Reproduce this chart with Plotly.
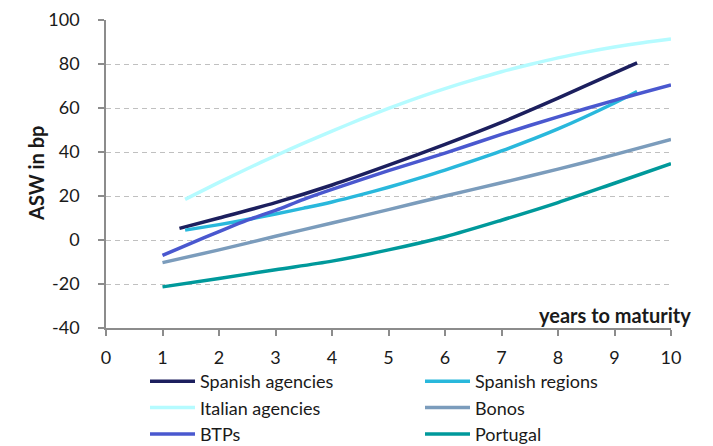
import plotly.graph_objects as go

# Data (x = years to maturity, y = ASW in bp)
sp_ag_x = [1.3, 2, 3, 4, 5, 6, 7, 8, 9, 9.4]
sp_ag_y = [5.3, 10, 17, 25, 34, 43.5, 53.5, 64.5, 76, 80.5]

sp_reg_x = [1.4, 2, 2.5, 3, 3.5, 4, 4.5, 5, 5.5, 6, 7, 8, 9, 9.4]
sp_reg_y = [4.5, 7, 9.3, 11.8, 14.5, 17.3, 20.5, 24, 27.8, 31.8, 40.5, 50.5, 62.3, 67.5]

it_ag_x = [1.4, 2, 2.5, 3, 3.5, 4, 4.5, 5, 5.5, 6, 6.5, 7, 7.5, 8, 8.5, 9, 9.5, 10]
it_ag_y = [18.5, 26.2, 32.4, 38.3, 44, 49.5, 54.8, 59.8, 64.5, 68.8, 72.8, 76.5, 79.8, 82.8, 85.4, 87.7, 89.7, 91.4]

bonos_x = [1, 2, 3, 4, 5, 6, 7, 8, 9, 10]
bonos_y = [-10.3, -4.5, 1.7, 7.7, 13.8, 20, 26, 32.2, 38.8, 45.7]

btp_x = [1, 1.5, 2, 2.5, 3, 3.5, 4, 5, 6, 7, 8, 9, 10]
btp_y = [-7, -1.5, 3.8, 9, 13.5, 18.5, 23, 31.5, 39.5, 48, 56, 63.5, 70.5]

pt_x = [1, 2, 3, 4, 5, 6, 7, 8, 9, 10]
pt_y = [-21.3, -17.5, -13.5, -9.6, -4.5, 1.5, 9, 17, 25.8, 34.7]

names = ["Spanish agencies", "Spanish regions", "Italian agencies", "Bonos", "BTPs", "Portugal"]
colors = ["#1c1f5e", "#29b8dc", "#b5fbff", "#7b9cbc", "#4a58cf", "#00999b"]
legend_ids = ["legend", "legend2", "legend", "legend2", "legend", "legend2"]
series = [(sp_ag_x, sp_ag_y), (sp_reg_x, sp_reg_y), (it_ag_x, it_ag_y),
          (bonos_x, bonos_y), (btp_x, btp_y), (pt_x, pt_y)]

x_ticks = list(range(0, 11))
y_ticks = list(range(-40, 101, 20))

FONT = "Lato"
TXT = "#1a1a1a"

fig = go.Figure()
for name, color, lg, (xs, ys) in zip(names, colors, legend_ids, series):
    fig.add_trace(go.Scatter(
        x=xs, y=ys, name=name, mode="lines", legend=lg,
        line=dict(color=color, width=3.5, shape="spline", smoothing=0.8),
    ))

legend_common = dict(
    orientation="v", xref="container", yref="container",
    xanchor="left", y=1 - 355 / 446, yanchor="top",
    font=dict(family=FONT, size=18, color=TXT),
    itemwidth=45, tracegroupgap=0, bgcolor="rgba(0,0,0,0)",
)

fig.update_layout(
    width=713, height=446,
    margin=dict(l=98, r=50, t=12, b=126, autoexpand=False),
    paper_bgcolor="white", plot_bgcolor="white",
    font=dict(family=FONT, size=18, color=TXT),
    showlegend=True,
    legend=dict(x=137 / 713, **legend_common),
    legend2=dict(x=412 / 713, **legend_common),
    xaxis=dict(
        range=[0, 10], tickvals=x_ticks, ticktext=[str(v) for v in x_ticks],
        showgrid=False, zeroline=False, automargin=False,
        showline=True, linecolor="#8c8c8c", linewidth=1.5,
        ticks="outside", ticklen=6, tickcolor="#8c8c8c", tickwidth=1.5,
        ticklabelstandoff=7, ticklabeloverflow="allow",
    ),
    yaxis=dict(
        range=[-40, 100.01], tickvals=y_ticks, ticktext=[str(v) for v in y_ticks],
        showgrid=True, gridcolor="#c0c0c0", gridwidth=1.2, griddash="5px,4px",
        zeroline=False, automargin=False,
        showline=True, linecolor="#8c8c8c", linewidth=1.5,
        ticks="outside", ticklen=6, tickcolor="#8c8c8c", tickwidth=1.5,
        ticklabelstandoff=15, ticklabeloverflow="allow",
    ),
    annotations=[
        dict(
            text="<b>years to maturity</b>", xref="paper", yref="paper",
            x=1.039, y=0.041, xanchor="right", yanchor="middle", showarrow=False,
            font=dict(family=FONT, size=20, color=TXT),
        ),
        dict(
            text="<b>ASW in bp</b>", xref="paper", yref="paper",
            x=(36 - 106) / 565, y=0.5, xanchor="center", yanchor="middle",
            textangle=-90, showarrow=False,
            font=dict(family=FONT, size=20, color=TXT),
        ),
    ],
)

fig.write_html("out.html")
